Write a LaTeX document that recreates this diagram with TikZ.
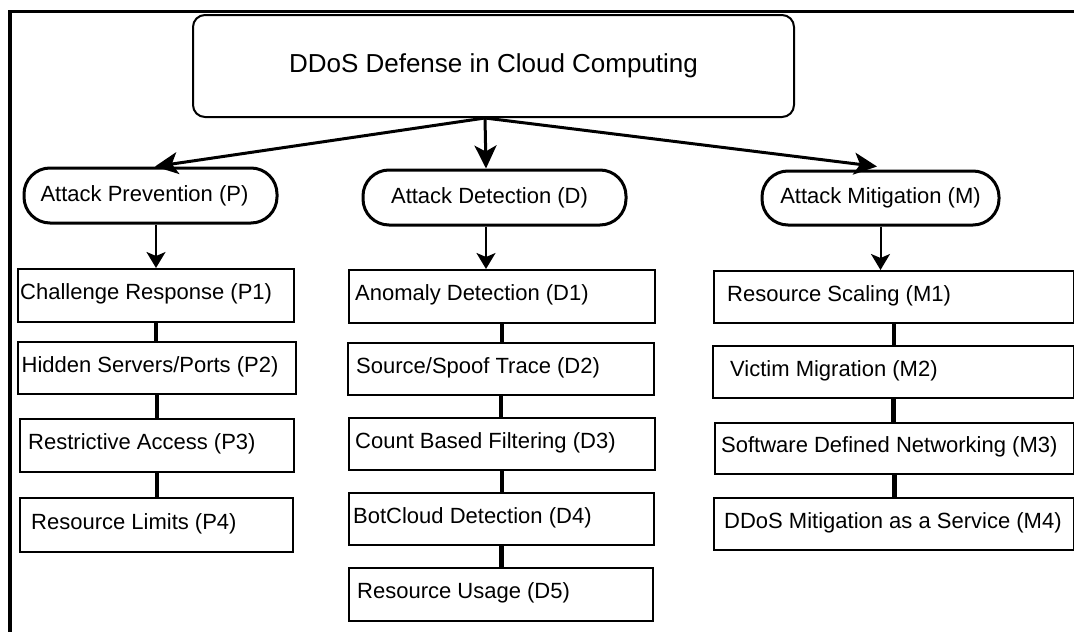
\documentclass[tikz,border=0pt]{standalone}
\usepackage{fontspec}
\setmainfont{Liberation Sans}
\usetikzlibrary{arrows.meta}
\begin{document}
\begin{tikzpicture}[x=1pt,y=-1pt,
  leaf/.style={draw, line width=2pt, anchor=north west, inner sep=0pt},
  lbl/.style={anchor=west, inner sep=0pt, yshift=1.5pt, font=\fontsize{22}{26}\selectfont},
  pill/.style={draw, line width=3pt, rounded corners=26pt, inner sep=0pt,
    minimum height=55pt, font=\fontsize{22}{26}\selectfont},
  rootbox/.style={draw, line width=2pt, rounded corners=12pt, minimum width=601pt,
    minimum height=102pt, font=\fontsize{26}{30}\selectfont},
  trunk/.style={line width=3pt, -{Stealth[length=23pt,width=22pt,inset=6pt]}},
  drop/.style={line width=2pt, -{Stealth[length=16pt,width=19pt,inset=4pt]}},
  chain/.style={line width=4.5pt},
]
\useasboundingbox (0,0) rectangle (1074,632);

% frame along the top and left edges
\draw[line width=3.5pt] (10,632) -- (10,11.5) -- (1074,11.5);

% root
\node[rootbox] (root) at (493.5,66) {DDoS Defense in Cloud Computing};

% the three branches
\node[pill, minimum width=253pt] (P) at (150.5,195.5) {\hspace*{-12pt}Attack Prevention (P)};
\node[pill, minimum width=263pt] (D) at (494.5,197.5) {\hspace*{-10pt}Attack Detection (D)};
\node[pill, minimum width=237pt, minimum height=54pt] (M) at (880.5,198) {Attack Mitigation (M)};

% prevention
\node[leaf, minimum width=276pt, minimum height=53pt,
  label={[lbl,xshift=3pt]west:Challenge Response (P1)}] (P1) at (17,268) {};
\node[leaf, minimum width=278pt, minimum height=52pt,
  label={[lbl,xshift=4.5pt]west:Hidden Servers/Ports (P2)}] (P2) at (17,341) {};
\node[leaf, minimum width=274pt, minimum height=53pt,
  label={[lbl,xshift=9pt]west:Restrictive Access (P3)}] (P3) at (19,418) {};
\node[leaf, minimum width=273pt, minimum height=54pt,
  label={[lbl,xshift=12pt]west:Resource Limits (P4)}] (P4) at (19,497) {};

% detection
\node[leaf, minimum width=306pt, minimum height=53pt,
  label={[lbl,xshift=7pt]west:Anomaly Detection (D1)}] (D1) at (348,269) {};
\node[leaf, minimum width=306pt, minimum height=52pt,
  label={[lbl,xshift=9pt]west:Source/Spoof Trace (D2)}] (D2) at (347,342) {};
\node[leaf, minimum width=306pt, minimum height=52pt,
  label={[lbl,xshift=7pt]west:Count Based Filtering (D3)}] (D3) at (348,417) {};
\node[leaf, minimum width=305pt, minimum height=52pt,
  label={[lbl,xshift=5pt]west:BotCloud Detection (D4)}] (D4) at (348,492) {};
\node[leaf, minimum width=304pt, minimum height=53pt,
  label={[lbl,xshift=9pt]west:Resource Usage (D5)}] (D5) at (348,567) {};

% mitigation
\node[leaf, minimum width=360pt, minimum height=52pt,
  label={[lbl,xshift=14pt]west:Resource Scaling (M1)}] (M1) at (713,270) {};
\node[leaf, minimum width=361pt, minimum height=52pt,
  label={[lbl,xshift=18pt]west:Victim Migration (M2)}] (M2) at (712,345) {};
\node[leaf, minimum width=359pt, minimum height=51pt,
  label={[lbl,xshift=7pt]west:Software Defined Networking (M3)}] (M3) at (714,422) {};
\node[leaf, minimum width=360pt, minimum height=52pt,
  label={[lbl,xshift=11pt]west:DDoS Mitigation as a Service (M4)}] (M4) at (713,497) {};

% root to branches
\coordinate (fork) at ([xshift=-8.5pt]root.south);
\draw[trunk] (fork) -- ([xshift=4.5pt]P.north);
\draw[trunk] (fork) -- ([xshift=-8.5pt]D.north);
\draw[trunk] (fork) -- ([xshift=-3.5pt,yshift=3pt]M.north);

% branches to their first item
\draw[drop] (P1.north |- P.south) -- (P1.north);
\draw[drop] ([xshift=-8.5pt]D.south) -- ([xshift=-8.5pt]D.south |- D1.north);
\draw[drop] (M.south) -- (M.south |- M1.north);

% links down each column
\foreach \a/\b in {P1/P2,P2/P3,P3/P4,D1/D2,D2/D3,D3/D4,D4/D5,M1/M2,M2/M3,M3/M4}
  \draw[chain] (\a.south) -- (\a.south |- \b.north);
\end{tikzpicture}
\end{document}
